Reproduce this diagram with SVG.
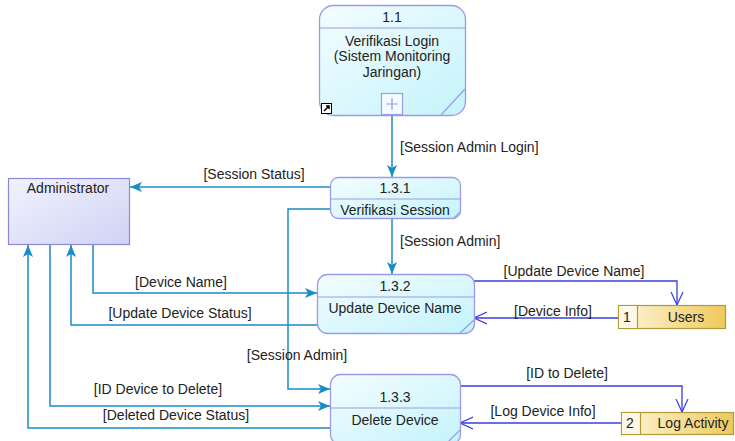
<svg xmlns="http://www.w3.org/2000/svg" width="735" height="441" viewBox="0 0 735 441">
<defs>
<linearGradient id="gProc" x1="0" y1="0" x2="1" y2="1">
<stop offset="0" stop-color="#f4fdff"/>
<stop offset="1" stop-color="#c4f3fb"/>
</linearGradient>
<linearGradient id="gEnt" x1="0" y1="0" x2="1" y2="1">
<stop offset="0" stop-color="#f2f2fd"/>
<stop offset="1" stop-color="#cfd3f5"/>
</linearGradient>
<linearGradient id="gStore" x1="0" y1="0" x2="1" y2="0">
<stop offset="0" stop-color="#fdf6dc"/>
<stop offset="1" stop-color="#efc95a"/>
</linearGradient>
<marker id="aF" viewBox="0 0 12 10" refX="12" refY="5" markerWidth="12" markerHeight="10" markerUnits="userSpaceOnUse" orient="auto">
<path d="M0,0 L12,5 L0,10 L3,5 Z" fill="#1a8cc8"/>
</marker>
<marker id="aO" viewBox="0 0 14 14" refX="13" refY="7" markerWidth="14" markerHeight="14" markerUnits="userSpaceOnUse" orient="auto">
<path d="M0,1 L13,7 L0,13" fill="none" stroke="#3d3de0" stroke-width="1.2"/>
</marker>
</defs>
<style>
text{font-family:"Liberation Sans",Arial,sans-serif;font-size:14px;fill:#222;}
.c{text-anchor:middle;}
.proc{fill:url(#gProc);stroke:#9b9be8;stroke-width:1.3;}
.pl{stroke:#9b9be8;stroke-width:1.2;fill:none;}
.ent{fill:url(#gEnt);stroke:#8a8ad8;stroke-width:1.2;}
.store{fill:url(#gStore);stroke:#b09a3a;stroke-width:1.2;}
.sl{stroke:#b09a3a;stroke-width:1.2;}
.f{fill:none;stroke:#1a8cc8;stroke-width:1.5;}
.fa{marker-end:url(#aF);}
.d{fill:none;stroke:#3d3de0;stroke-width:1.3;marker-end:url(#aO);}
</style>

<g id="connectors">
<path class="f fa" d="M392,115 V177"/>
<text x="400" y="152">[Session Admin Login]</text>
<path class="f fa" d="M330,187 H130"/>
<text x="254" y="179" class="c">[Session Status]</text>
<path class="f fa" d="M392,218 V274"/>
<text x="400" y="246">[Session Admin]</text>
<path class="f fa" d="M330,209 H288 V389 H330"/>
<text x="297" y="360" class="c">[Session Admin]</text>
<path class="f fa" d="M93,244 V293 H317"/>
<text x="181" y="287" class="c">[Device Name]</text>
<path class="f fa" d="M317,325 H71 V245"/>
<text x="180" y="318" class="c">[Update Device Status]</text>
<path class="f fa" d="M50,244 V406 H330"/>
<text x="158" y="394" class="c">[ID Device to Delete]</text>
<path class="f fa" d="M330,428 H28 V245"/>
<text x="176" y="420" class="c">[Deleted Device Status]</text>
<path class="d" d="M474,281 H677 V305"/>
<text x="574" y="276" class="c">[Update Device Name]</text>
<path class="d" d="M618,318 H474"/>
<text x="553" y="316" class="c">[Device Info]</text>
<path class="d" d="M460,386 H682 V412"/>
<text x="567" y="378" class="c">[ID to Delete]</text>
<path class="d" d="M621,423 H460"/>
<text x="543" y="416" class="c">[Log Device Info]</text>
</g>

<g id="p1_1">
<rect class="proc" x="319.5" y="5.5" width="146" height="110" rx="14"/>
<line class="pl" x1="320" y1="28" x2="465" y2="28"/>
<line class="pl" x1="441" y1="115" x2="465" y2="89"/>
<text x="392" y="22" class="c">1.1</text>
<text x="392" y="46" class="c">Verifikasi Login</text>
<text x="392" y="61" class="c">(Sistem Monitoring</text>
<text x="392" y="77" class="c">Jaringan)</text>
<rect x="381.5" y="93.5" width="21" height="21" fill="#f4fdff" stroke="#9b9be8" stroke-width="1.2"/>
<path d="M392,98 V110 M386,104 H398" stroke="#9b9be8" stroke-width="1.2"/>
<rect x="321.5" y="103.5" width="10" height="10" fill="#fff" stroke="#000" stroke-width="1"/>
<path d="M324,111 L329,106 M326,106 H329 V109" stroke="#000" stroke-width="1.5" fill="none"/>
</g>

<g id="admin">
<rect class="ent" x="8.5" y="178.5" width="121" height="66"/>
<text x="68" y="193" class="c">Administrator</text>
</g>

<g id="p1_3_1">
<rect class="proc" x="330.5" y="177.5" width="130" height="41" rx="8"/>
<line class="pl" x1="331" y1="199" x2="460" y2="199"/>
<line class="pl" x1="454" y1="218" x2="460" y2="212"/>
<text x="395" y="193" class="c">1.3.1</text>
<text x="395" y="215" class="c">Verifikasi Session</text>
</g>

<g id="p1_3_2">
<rect class="proc" x="317.5" y="274.5" width="157" height="59" rx="10"/>
<line class="pl" x1="318" y1="297" x2="474" y2="297"/>
<line class="pl" x1="460" y1="333" x2="474" y2="320"/>
<text x="395" y="291" class="c">1.3.2</text>
<text x="395" y="313" class="c">Update Device Name</text>
</g>

<g id="p1_3_3">
<rect class="proc" x="330.5" y="374.5" width="130" height="70" rx="10"/>
<line class="pl" x1="331" y1="408" x2="460" y2="408"/>
<line class="pl" x1="447" y1="443" x2="460" y2="430"/>
<text x="395" y="402" class="c">1.3.3</text>
<text x="395" y="425" class="c">Delete Device</text>
</g>

<g id="users">
<rect class="store" x="618.5" y="305.5" width="107" height="23"/>
<rect x="619" y="306" width="18" height="22" fill="#fdf8e6"/>
<line class="sl" x1="637.5" y1="305.5" x2="637.5" y2="328.5"/>
<text x="627" y="322" class="c">1</text>
<text x="686" y="322" class="c">Users</text>
</g>

<g id="log">
<rect class="store" x="621.5" y="412.5" width="112" height="22"/>
<rect x="622" y="413" width="18" height="21" fill="#fdf8e6"/>
<line class="sl" x1="640.5" y1="412.5" x2="640.5" y2="434.5"/>
<text x="630" y="428" class="c">2</text>
<text x="693" y="428" class="c">Log Activity</text>
</g>
</svg>
